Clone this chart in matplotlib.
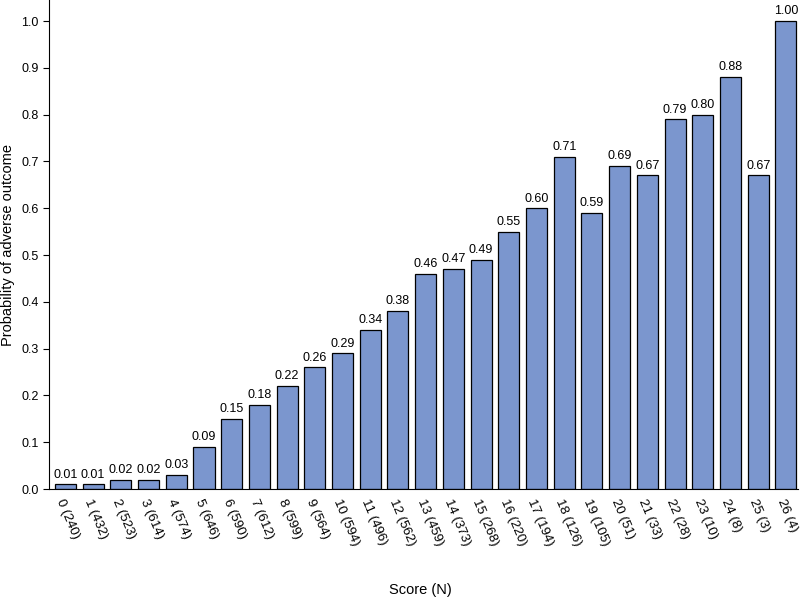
import matplotlib.pyplot as plt

scores = list(range(27))
counts = [240, 432, 523, 614, 574, 646, 590, 612, 599, 564, 594, 496, 562,
          459, 373, 268, 220, 194, 126, 105, 51, 33, 28, 10, 8, 3, 4]
probs = [0.01, 0.01, 0.02, 0.02, 0.03, 0.09, 0.15, 0.18, 0.22, 0.26, 0.29,
         0.34, 0.38, 0.46, 0.47, 0.49, 0.55, 0.60, 0.71, 0.59, 0.69, 0.67,
         0.79, 0.80, 0.88, 0.67, 1.00]
tick_labels = [f"{s} ({n})" for s, n in zip(scores, counts)]

plt.rcParams["font.family"] = ["Liberation Sans", "DejaVu Sans"]

fig = plt.figure(figsize=(8, 5.99), dpi=100)
ax = fig.add_axes([0.061, 0.1836, 0.937, 0.8164])

bars = ax.bar(scores, probs, width=0.76, color="#7b96ce",
              edgecolor="black", linewidth=0.9)
for b, p in zip(bars, probs):
    ax.text(b.get_x() + b.get_width() / 2, p + 0.008, f"{p:.2f}",
            ha="center", va="bottom", fontsize=9)

ax.set_xlim(-0.6, 26.45)
ax.set_ylim(0, 1.045)
ax.set_yticks([i / 10 for i in range(11)])
ax.set_yticklabels([f"{i / 10:.1f}" for i in range(11)], fontsize=9)
ax.set_xticks(scores)
ax.set_xticklabels(tick_labels, rotation=-67, ha="left", va="top",
                   rotation_mode="anchor", fontsize=9.5)
ax.tick_params(axis="x", length=0, pad=6)
ax.tick_params(axis="y", length=4)

for side in ("top", "right"):
    ax.spines[side].set_visible(False)

ax.set_ylabel("Probability of adverse outcome", fontsize=10.5)
fig.text(0.525, 0.015, "Score (N)", ha="center", va="center", fontsize=10.5)

fig.savefig("out.png", dpi=100)
